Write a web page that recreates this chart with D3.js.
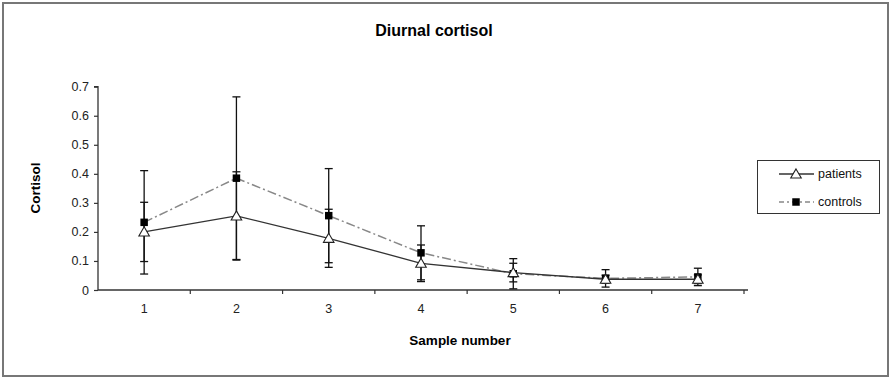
<!DOCTYPE html>
<html><head><meta charset="utf-8">
<script src="https://cdn.jsdelivr.net/npm/d3@7"></script>
<style>body{margin:0;background:#fff}svg{display:block;font-family:Arial,"Liberation Sans",sans-serif}</style>
</head><body>
<svg id="chart" width="892" height="381"></svg>
<script>
const categories = ["1","2","3","4","5","6","7"];
const patients = [0.200, 0.255, 0.178, 0.092, 0.060, 0.037, 0.037];
const patientsErr = [0.102, 0.152, 0.100, 0.063, 0.032, 0.014, 0.015];
const controls = [0.233, 0.385, 0.256, 0.128, 0.056, 0.040, 0.045];
const controlsErr = [0.178, 0.280, 0.162, 0.093, 0.052, 0.030, 0.030];
const yTicks = [0, 0.1, 0.2, 0.3, 0.4, 0.5, 0.6, 0.7];

const svg = d3.select("#chart");
const L = 98, R = 744, T = 86.7, B = 290;
const x = d3.scaleBand().domain(categories).range([L, R]);
const y = d3.scaleLinear().domain([0, 0.7]).range([B, T]);
const cx = c => x(c) + x.bandwidth() / 2;

// outer frame
svg.append("rect").attr("x", 3).attr("y", 3).attr("width", 885).attr("height", 373)
  .attr("fill", "none").attr("stroke", "#777").attr("stroke-width", 2);

// title
svg.append("text").attr("x", 434).attr("y", 36).attr("text-anchor", "middle")
  .attr("font-size", 16).attr("font-weight", "bold").attr("fill", "#000").text("Diurnal cortisol");

// y axis
const yAxis = d3.axisLeft(y).tickValues(yTicks).tickSize(4).tickPadding(5)
  .tickFormat(d => d === 0 ? "0" : d3.format(".1f")(d));
const gy = svg.append("g").attr("transform", `translate(${L},0)`).call(yAxis);
gy.select(".domain").attr("stroke", "#333").attr("stroke-width", 1.3).attr("d", `M-4,${T}H0V${B}`);
gy.selectAll(".tick line").attr("stroke", "#333").attr("stroke-width", 1.2);
gy.selectAll("text").attr("font-size", 12.5).attr("fill", "#222").attr("font-family", "Arial, Liberation Sans, sans-serif");

// x axis
const xAxis = d3.axisBottom(x).tickSize(0).tickPadding(14);
const gx = svg.append("g").attr("transform", `translate(0,${B})`).call(xAxis);
gx.select(".domain").attr("stroke", "#333").attr("stroke-width", 1.3).attr("d", `M${L},0H${R+4}`);
gx.selectAll("text").attr("font-size", 12.5).attr("fill", "#222").attr("font-family", "Arial, Liberation Sans, sans-serif");
// category boundary ticks
const bounds = categories.map(c => x(c)).concat([x(categories[categories.length-1]) + x.bandwidth()]);
gx.selectAll(".bt").data(bounds.slice(1)).enter().append("line")
  .attr("x1", d => d).attr("x2", d => d).attr("y1", 0).attr("y2", 4)
  .attr("stroke", "#333").attr("stroke-width", 1.2);

// axis titles
svg.append("text").attr("x", 460).attr("y", 345).attr("text-anchor", "middle")
  .attr("font-size", 13.5).attr("font-weight", "bold").attr("fill", "#000").text("Sample number");
svg.append("text").attr("transform", "translate(40,188) rotate(-90)").attr("text-anchor", "middle")
  .attr("font-size", 13.5).attr("font-weight", "bold").attr("fill", "#000").text("Cortisol");

// error bars
function errBars(vals, errs) {
  const g = svg.append("g").attr("stroke", "#111").attr("stroke-width", 1.3);
  vals.forEach((v, i) => {
    const c = cx(categories[i]);
    const hi = y(v + errs[i]), lo = y(Math.max(0, v - errs[i]));
    g.append("line").attr("x1", c).attr("x2", c).attr("y1", hi).attr("y2", lo);
    g.append("line").attr("x1", c - 4).attr("x2", c + 4).attr("y1", hi).attr("y2", hi);
    g.append("line").attr("x1", c - 4).attr("x2", c + 4).attr("y1", lo).attr("y2", lo);
  });
}
errBars(controls, controlsErr);
errBars(patients, patientsErr);

const line = d3.line().x((d, i) => cx(categories[i])).y(d => y(d));
svg.append("path").datum(controls).attr("d", line).attr("fill", "none")
  .attr("stroke", "#888").attr("stroke-width", 1.5).attr("stroke-dasharray", "9,3,2,3");
svg.append("path").datum(patients).attr("d", line).attr("fill", "none")
  .attr("stroke", "#333").attr("stroke-width", 1.3);

const tri = d3.symbol().type(d3.symbolTriangle).size(48);
const sq = d3.symbol().type(d3.symbolSquare).size(56);
svg.append("g").selectAll("path").data(controls).enter().append("path")
  .attr("d", sq).attr("transform", (d, i) => `translate(${cx(categories[i])},${y(d)})`).attr("fill", "#000");
svg.append("g").selectAll("path").data(patients).enter().append("path")
  .attr("d", tri).attr("transform", (d, i) => `translate(${cx(categories[i])},${y(d) + 1})`)
  .attr("fill", "#fff").attr("stroke", "#222").attr("stroke-width", 1.1);

// legend
const lg = svg.append("g");
lg.append("rect").attr("x", 757.5).attr("y", 160.5).attr("width", 122).attr("height", 53)
  .attr("fill", "#fff").attr("stroke", "#333").attr("stroke-width", 1);
lg.append("line").attr("x1", 779).attr("x2", 814).attr("y1", 174).attr("y2", 174).attr("stroke", "#333").attr("stroke-width", 1.3);
lg.append("path").attr("d", tri).attr("transform", "translate(796,175)").attr("fill", "#fff").attr("stroke", "#222").attr("stroke-width", 1.1);
lg.append("line").attr("x1", 779).attr("x2", 814).attr("y1", 202).attr("y2", 202).attr("stroke", "#888").attr("stroke-width", 1.5).attr("stroke-dasharray", "5,3,2,3");
lg.append("path").attr("d", sq).attr("transform", "translate(796,202)").attr("fill", "#000");
lg.append("text").attr("x", 818).attr("y", 178).attr("font-size", 12.5).attr("fill", "#111").text("patients");
lg.append("text").attr("x", 818).attr("y", 206).attr("font-size", 12.5).attr("fill", "#111").text("controls");
</script>
</body></html>
